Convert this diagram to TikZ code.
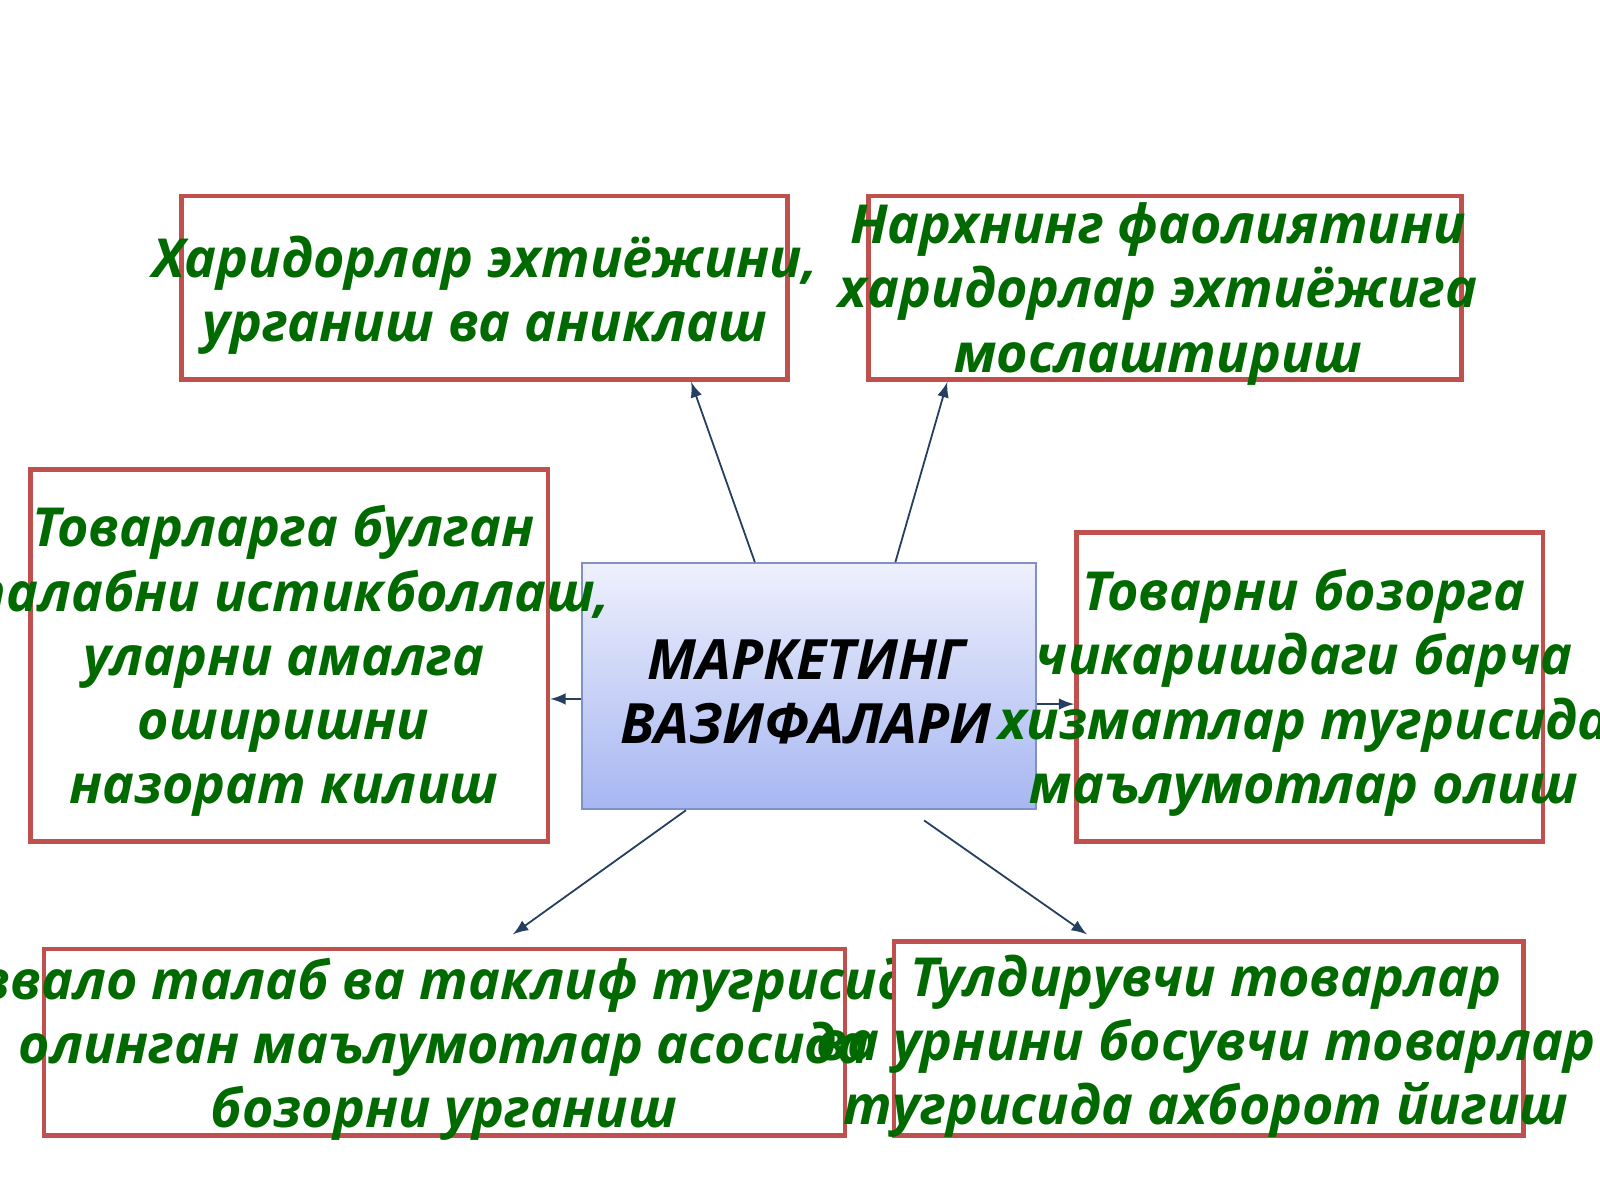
\documentclass[tikz,border=0pt]{standalone}
\usepackage{fontspec}
\setmainfont{Open Sans}
\usepackage{tikz}
\usetikzlibrary{arrows,calc,positioning}
\definecolor{boxred}{HTML}{C0504D}
\definecolor{txtgreen}{HTML}{006A00}
\definecolor{arrblue}{HTML}{243F60}
\definecolor{cborder}{HTML}{8091C4}
\definecolor{ctop}{HTML}{EEF0FD}
\definecolor{cbot}{HTML}{A6B6F1}
\newcommand{\tline}[1]{\makebox[0pt]{#1}}
\begin{document}
\begin{tikzpicture}[
  taskbox/.style={draw=boxred,line width=1.3pt,fill=white,inner sep=0pt},
  tasktext/.style={text=txtgreen,align=center,inner sep=0pt,
    font=\fontsize{15}{17.9}\selectfont\bfseries\itshape},
  mainbox/.style={draw=cborder,line width=0.6pt,top color=ctop,bottom color=cbot,
    minimum width=4.45cm,minimum height=2.41cm,inner sep=0pt},
  maintext/.style={text=black,align=center,inner sep=0pt,
    font=\fontsize{15.5}{17.7}\selectfont\bfseries\itshape},
  link/.style={draw=arrblue,line width=0.5pt,->,>=latex}]
\useasboundingbox (0,0) rectangle (15.68,11.76);

\node[mainbox] (c) at (7.925,5.035) {};
\node[maintext] (c-t) at (7.90,4.98) {\tline{МАРКЕТИНГ}\\\tline{ВАЗИФАЛАРИ}};

\node[taskbox,minimum width=5.94cm,minimum height=1.80cm] (tl) at (4.75,8.94) {};
\node[tasktext] (tl-t) at (4.75,8.87) {\tline{Харидорлар эхтиёжини,}\\\tline{урганиш ва аниклаш}};

\node[taskbox,minimum width=5.81cm,minimum height=1.80cm] (tr) at (11.415,8.94) {};
\node[tasktext] (tr-t) at (11.35,8.88) {\tline{Нархнинг фаолиятини}\\\tline{харидорлар эхтиёжига}\\\tline{мослаштириш}};

\node[taskbox,minimum width=5.07cm,minimum height=3.65cm] (lf) at (2.835,5.335) {};
\node[tasktext] (lf-t) at (2.78,5.28) {\tline{Товарларга булган}\\\tline{талабни истикболлаш,}\\\tline{уларни амалга}\\\tline{оширишни}\\\tline{назорат килиш}};

\node[taskbox,minimum width=4.57cm,minimum height=3.03cm] (rt) at (12.835,5.025) {};
\node[tasktext] (rt-t) at (12.78,4.97) {\tline{Товарни бозорга}\\\tline{чикаришдаги барча}\\\tline{хизматлар тугрисида}\\\tline{маълумотлар олиш}};

\node[taskbox,minimum width=7.85cm,minimum height=1.83cm] (bl) at (4.355,1.545) {};
\node[tasktext] (bl-t) at (4.35,1.48) {\tline{Аввало талаб ва таклиф тугрисида}\\\tline{олинган маълумотлар асосида}\\\tline{бозорни урганиш}};

\node[taskbox,minimum width=6.17cm,minimum height=1.90cm] (br) at (11.845,1.58) {};
\node[tasktext] (br-t) at (11.82,1.505) {\tline{Тулдирувчи товарлар}\\\tline{ва урнини босувчи товарлар}\\\tline{тугрисида ахборот йигиш}};

\draw[link] ($(c.north west)!.382!(c.north east)$) -- ($(tl.south west)!.838!(tl.south east)$);
\draw[link] ($(c.north west)!.69!(c.north east)$) -- ($(tr.south west)!.136!(tr.south east)$);
\draw[link] ($(c.west)+(0,-.125)$) coordinate (l0) -- (l0 -| lf.east);
\draw[link] ($(c.east)+(0,-.175)$) coordinate (r0) -- (r0 -| rt.west);
\draw[link] ($(c.south west)!.231!(c.south east)$) -- ($(bl.north west)!.585!(bl.north east)+(0,.12)$);
\draw[link] ($(c.south west)!.753!(c.south east)+(0,-.1)$) -- ($(br.north west)!.308!(br.north east)+(0,.05)$);
\end{tikzpicture}
\end{document}
